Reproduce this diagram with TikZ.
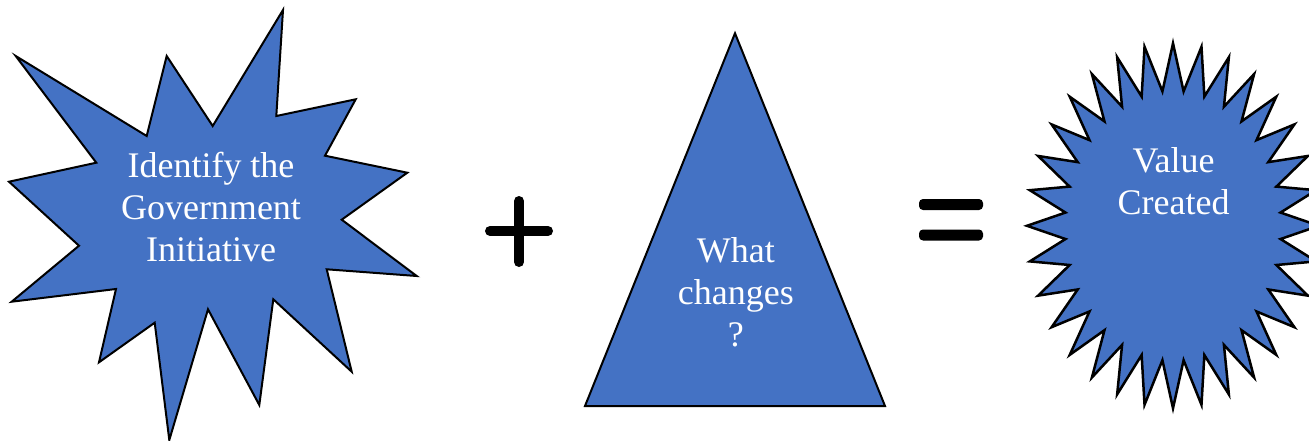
\documentclass[tikz,border=0pt]{standalone}
\usepackage{fontspec}
\setmainfont{Liberation Serif}
\usetikzlibrary{positioning}
\definecolor{ShapeBlue}{RGB}{68, 114, 196}

\tikzset{
  blueshape/.style={draw=black, line width=2pt, fill=ShapeBlue, line join=miter},
  shapetext/.style={text=white, font=\fontsize{36}{42}\selectfont, align=center, anchor=base, inner sep=0pt},
  signbar/.style={line width=10pt, line cap=round}
}

\begin{document}
\begin{tikzpicture}[x=1pt, y=-1pt]
  \useasboundingbox (0,0) rectangle (1309,441);

  % Starburst
  \draw[blueshape] (15.7,56) -- (146.7,136) -- (166.7,56) -- (212.7,126) -- (283,10)
    -- (276.3,116) -- (355.7,99.3) -- (325,155.7) -- (407.3,172.7) -- (341.7,219.7)
    -- (416.7,276) -- (326.7,269.3) -- (351.7,371.7) -- (273.3,299.3) -- (259.3,405)
    -- (208,309.3) -- (169.3,440) -- (154.7,322.7) -- (99,362.3) -- (116,289)
    -- (11.7,301.7) -- (79,245.7) -- (9,181.7) -- (96.3,162.7) -- cycle;
  \node[shapetext] (initiative) at (211,261.7) {Identify the\\Government\\Initiative};

  % Plus
  \draw[signbar] (490,231) -- (548,231);
  \draw[signbar] (519,201) -- (519,262);

  % Triangle
  \draw[blueshape] (735,33.3) -- (885,406) -- (585,406) -- cycle;
  \node[shapetext] (changes) at (735.8,346.7) {What\\changes\\?};

  % Equals
  \fill[rounded corners=4pt] (919,199) rectangle (983,210);
  \fill[rounded corners=4pt] (919,229.5) rectangle (983,240.5);

  % Seal with 32 points
  \draw[blueshape, line width=2.5pt] (1319,225.8)
    \foreach \k in {0,...,31} {
      -- ({1173+146*0.74*cos(\k*11.25+5.625)}, {225.8-182.5*0.74*sin(\k*11.25+5.625)})
      -- ({1173+146*cos((\k+1)*11.25)}, {225.8-182.5*sin((\k+1)*11.25)})
    } -- cycle;
  \node[shapetext] (value) at (1173.5,214.3) {Value\\Created};
\end{tikzpicture}
\end{document}
